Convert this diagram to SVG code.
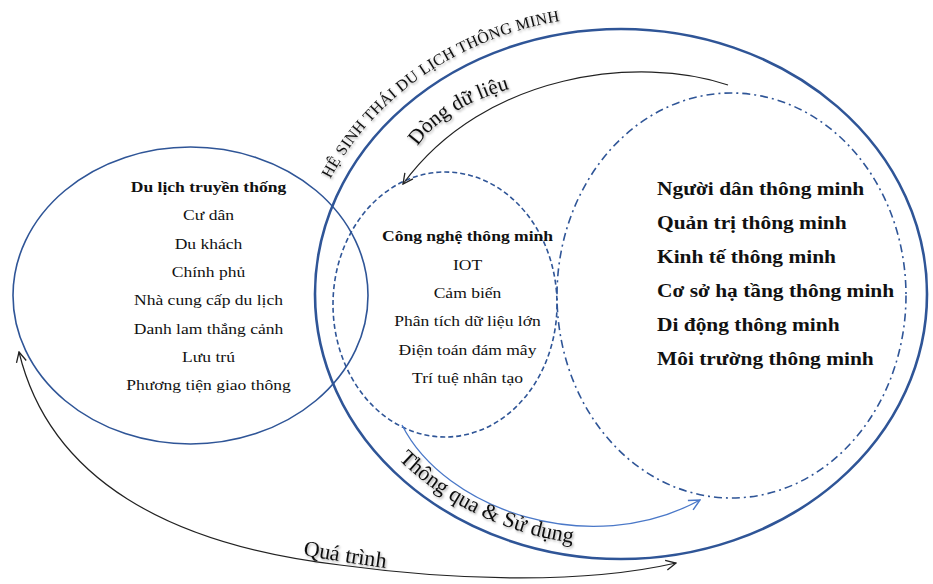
<svg xmlns="http://www.w3.org/2000/svg" width="933" height="584" viewBox="0 0 933 584">
  <style>
    .ring { fill: none; stroke: #2f5597; }
    .item { font-family: "Liberation Serif", "Times New Roman", serif; font-size: 15px; fill: #111; text-anchor: middle; }
    .head { font-weight: bold; }
    .big { font-family: "Liberation Serif", "Times New Roman", serif; font-size: 18px; font-weight: bold; fill: #111; }
    .curve { font-family: "Liberation Serif", "Times New Roman", serif; fill: #111; filter: url(#shade); }
    .flow { fill: none; stroke: #222; stroke-width: 1.2; }
    .flow-blue { fill: none; stroke: #4a78c8; stroke-width: 1.3; }
  </style>
  <defs>
    <filter id="shade" x="-10%" y="-30%" width="120%" height="160%">
      <feDropShadow dx="1.2" dy="1.6" stdDeviation="0.9" flood-color="#000" flood-opacity="0.35"/>
    </filter>
    <marker id="tip" viewBox="0 0 12 12" refX="11" refY="6" markerWidth="12" markerHeight="12" markerUnits="userSpaceOnUse" orient="auto-start-reverse">
      <path d="M1,1 L11,6 L1,11" fill="none" stroke="#222" stroke-width="1.3"/>
    </marker>
    <marker id="tip-blue" viewBox="0 0 12 12" refX="11" refY="6" markerWidth="13" markerHeight="13" markerUnits="userSpaceOnUse" orient="auto">
      <path d="M1,1 L11,6 L1,11" fill="none" stroke="#4a78c8" stroke-width="1.3"/>
    </marker>
    <!-- baselines for the curved labels -->
    <path id="p-eco" d="M321,199 A319,278 0 0 1 676,20"/>
    <path id="p-data" d="M410,158 C435,114 475,96 550,78"/>
    <path id="p-use" d="M386,446 A293,252 0 0 0 700,536.5"/>
    <path id="p-proc" d="M298,554 Q345,563 410,571"/>
  </defs>

  <rect width="933" height="584" fill="#fff"/>

  <!-- smart tourism ecosystem boundary -->
  <g id="ecosystem">
    <ellipse class="ring" cx="621" cy="294" rx="306" ry="265" stroke-width="2.6"/>
    <text class="curve" font-size="16" letter-spacing="0.3"><textPath href="#p-eco" startOffset="22">HỆ SINH THÁI DU LỊCH THÔNG MINH</textPath></text>
  </g>

  <!-- traditional tourism -->
  <g id="traditional">
    <ellipse class="ring" cx="190.5" cy="295.5" rx="177.5" ry="148.5" stroke-width="1.6" stroke="#3a5da6"/>
    <g transform="translate(208.5,0) scale(1.17,1)">
      <text class="item head" x="0" y="192">Du lịch truyền thống</text>
      <text class="item" x="0" y="220.5">Cư dân</text>
      <text class="item" x="0" y="249">Du khách</text>
      <text class="item" x="0" y="277">Chính phủ</text>
      <text class="item" x="0" y="305.5">Nhà cung cấp du lịch</text>
      <text class="item" x="0" y="334">Danh lam thắng cảnh</text>
      <text class="item" x="0" y="362">Lưu trú</text>
      <text class="item" x="0" y="390.5">Phương tiện giao thông</text>
    </g>
  </g>

  <!-- smart technology -->
  <g id="technology">
    <ellipse class="ring" cx="445" cy="304.5" rx="112" ry="132.5" stroke-width="1.6" stroke-dasharray="5 3"/>
    <g transform="translate(467.5,0) scale(1.17,1)">
      <text class="item head" x="0" y="241.5">Công nghệ thông minh</text>
      <text class="item" x="0" y="270">IOT</text>
      <text class="item" x="0" y="298">Cảm biến</text>
      <text class="item" x="0" y="326.5">Phân tích dữ liệu lớn</text>
      <text class="item" x="0" y="355">Điện toán đám mây</text>
      <text class="item" x="0" y="383">Trí tuệ nhân tạo</text>
    </g>
  </g>

  <!-- smart city domains -->
  <g id="domains">
    <ellipse class="ring" cx="731.5" cy="295.5" rx="174.5" ry="202.5" stroke-width="1.6" stroke-dasharray="8 4 2 4"/>
    <g transform="translate(657,0) scale(1.19,1)">
      <text class="big" x="0" y="195">Người dân thông minh</text>
      <text class="big" x="0" y="229.5">Quản trị thông minh</text>
      <text class="big" x="0" y="263.5">Kinh tế thông minh</text>
      <text class="big" x="0" y="297.5">Cơ sở hạ tầng thông minh</text>
      <text class="big" x="0" y="331.5">Di động thông minh</text>
      <text class="big" x="0" y="365.5">Môi trường thông minh</text>
    </g>
  </g>

  <!-- connectors -->
  <g id="connectors">
    <path class="flow" d="M728,85 C640,55 485,72 403,184" marker-end="url(#tip)"/>
    <path class="flow-blue" d="M402,425 C445,510 590,560 700,500" marker-end="url(#tip-blue)"/>
    <path class="flow" d="M19,352 C50,480 170,545 340,565 C450,580 580,585 676,563" marker-start="url(#tip)" marker-end="url(#tip)"/>
    <text class="curve" font-size="21"><textPath href="#p-data" startOffset="14">Dòng dữ liệu</textPath></text>
    <text class="curve" font-size="22"><textPath href="#p-use" startOffset="18">Thông qua &amp; Sử dụng</textPath></text>
    <text class="curve" font-size="22"><textPath href="#p-proc" startOffset="5">Quá trình</textPath></text>
  </g>
</svg>
